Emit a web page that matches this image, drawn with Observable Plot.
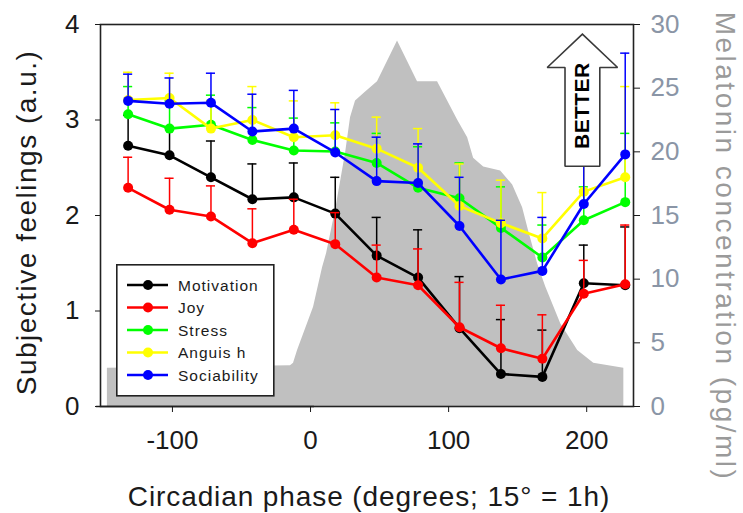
<!DOCTYPE html>
<html><head><meta charset="utf-8">
<script src="https://cdn.jsdelivr.net/npm/d3@7"></script>
<script src="https://cdn.jsdelivr.net/npm/@observablehq/plot@0.6"></script>
<style>
html,body{margin:0;padding:0;background:#fff;}
#wrap{position:relative;width:743px;height:513px;overflow:hidden;}
#legend{position:absolute;left:116px;top:264px;}
</style></head><body><div id="wrap"></div>
<script>
// ---- data ----
const phase = [-135, -105, -75, -45, -15, 15, 45, 75, 105, 135, 165, 195, 225];

const motivation      = [2.73, 2.63, 2.40, 2.17, 2.19, 2.02, 1.58, 1.35, 0.82, 0.34, 0.31, 1.29, 1.27];
const motivationUpper = [3.05, 2.92, 2.78, 2.54, 2.55, 2.40, 1.98, 1.85, 1.36, 0.91, 0.80, 1.69, 1.88];
const joy             = [2.29, 2.06, 1.99, 1.71, 1.85, 1.70, 1.35, 1.27, 0.83, 0.61, 0.50, 1.18, 1.28];
const joyUpper        = [2.61, 2.39, 2.31, 2.07, 2.17, 2.03, 1.69, 1.65, 1.30, 1.06, 0.96, 1.53, 1.90];
const stress          = [3.06, 2.91, 2.95, 2.79, 2.68, 2.67, 2.55, 2.29, 2.18, 1.87, 1.56, 1.95, 2.14];
const stressUpper     = [3.35, 3.20, 3.26, 3.13, 3.02, 2.97, 2.86, 2.72, 2.55, 2.30, 1.90, 2.30, 2.86];
const anguish         = [3.21, 3.23, 2.91, 3.00, 2.82, 2.84, 2.70, 2.50, 2.10, 1.92, 1.76, 2.25, 2.40];
const anguishUpper    = [3.50, 3.49, 3.20, 3.35, 3.20, 3.18, 3.03, 2.91, 2.54, 2.37, 2.24, 2.55, 3.35];
const sociability     = [3.20, 3.17, 3.18, 2.88, 2.91, 2.66, 2.36, 2.34, 1.89, 1.33, 1.42, 2.12, 2.64];
const sociabilityUpper= [3.48, 3.44, 3.49, 3.27, 3.31, 3.11, 2.82, 2.75, 2.40, 1.95, 1.98, 2.62, 3.70];

const seriesNames  = ["Motivation", "Joy", "Stress", "Anguis h", "Sociability"];
const seriesColors = ["#000000", "#ff0000", "#00ff00", "#ffff00", "#0000ff"];
const seriesMeans  = [motivation, joy, stress, anguish, sociability];
const seriesUppers = [motivationUpper, joyUpper, stressUpper, anguishUpper, sociabilityUpper];

const melatoninPhase = [-150, -17.4, -15.2, -12.3, -0.7, 5.8, 8.7, 15.2, 22.5, 26.1, 29.7, 37, 45.6, 60.1, 74.6, 89.1, 96.4, 103.6, 110.9, 115.2, 122.5, 134.8, 143.5, 150.7, 155, 161.6, 167.4, 178.3, 190.6, 202.2, 224];
const melatonin      = [3.0, 3.2, 3.4, 4.4, 7.8, 10.9, 12.0, 15.4, 19.9, 22.7, 24.0, 24.7, 25.5, 28.7, 25.5, 25.5, 24.0, 22.5, 21.1, 19.5, 18.8, 18.5, 17.4, 15.6, 13.8, 11.2, 9.4, 6.5, 4.4, 3.4, 3.0];

const xTicks = [-100, 0, 100, 200];
const leftTicks = [0, 1, 2, 3, 4];
const rightTicks = [0, 5, 10, 15, 20, 25, 30];

const xTitle = "Circadian phase (degrees; 15° = 1h)";
const yTitle = "Subjective feelings (a.u.)";
const y2Title = "Melatonin concentration (pg/ml)";

// annotation "BETTER" arrow (data units)
const betterArrow = {x: 194, tip: 3.9, head: 3.55, base: 2.515, headHalf: 25.5, shaftHalf: 12.6, textY: 3.15};

// ---- build ----
const melMax = 30, feelMax = 4;
const toLeft = v => v * feelMax / melMax;
const capHalf = 3.3;

const melRows = melatoninPhase.map((x, i) => ({x, m: melatonin[i]}));

const seriesMarks = [];
seriesNames.forEach((name, s) => {
  const rows = phase.map((x, i) => ({x, y: seriesMeans[s][i], hi: seriesUppers[s][i]}));
  const c = seriesColors[s];
  seriesMarks.push(
    Plot.ruleX(rows, {x: "x", y1: "y", y2: "hi", stroke: c, strokeWidth: 1.5}),
    Plot.ruleY(rows, {y: "hi", x1: d => d.x - capHalf, x2: d => d.x + capHalf, stroke: c, strokeWidth: 1.5}),
    Plot.line(rows, {x: "x", y: "y", stroke: c, strokeWidth: 2.6}),
    Plot.dot(rows, {x: "x", y: "y", fill: c, r: 5, stroke: "none"})
  );
});

const a = betterArrow;
const arrowPoly = [
  [a.x, a.tip], [a.x + a.headHalf, a.head], [a.x + a.shaftHalf, a.head], [a.x + a.shaftHalf, a.base],
  [a.x - a.shaftHalf, a.base], [a.x - a.shaftHalf, a.head], [a.x - a.headHalf, a.head], [a.x, a.tip]
];

const FONT = "'Liberation Sans', Arial, Helvetica, sans-serif";
const fmt = d => String(d);

const chart = Plot.plot({
  width: 743, height: 513,
  marginLeft: 100, marginRight: 110, marginTop: 24, marginBottom: 107,
  style: {fontFamily: FONT, fontSize: "26px", color: "#1a1a1a", background: "#fff", overflow: "visible"},
  x: {domain: [-155, 231]},
  y: {domain: [0, feelMax]},
  marks: [
    Plot.areaY(melRows, {x: "x", y: d => toLeft(d.m), fill: "#c0c0c0", curve: "linear"}),
    ...seriesMarks,
    Plot.line(arrowPoly, {x: d => d[0], y: d => d[1], fill: "#fff", stroke: "#3a3a3a", strokeWidth: 1.6, strokeLinejoin: "miter"}),
    Plot.text(["BETTER"], {x: a.x, y: a.textY, rotate: -90, fontWeight: "bold", fontSize: 21, fill: "#000"}),
    Plot.frame({stroke: "#222", strokeWidth: 1.6}),
    Plot.ruleY([0], {x1: -158, x2: 0, stroke: "#222", strokeWidth: 1.6, clip: false}),
    Plot.axisX({ticks: xTicks, tickSize: 6, tickPadding: 18, label: null, dx: -4, tickFormat: fmt}),
    Plot.axisY({anchor: "left", ticks: leftTicks, tickSize: 5, tickPadding: 16, label: null, tickFormat: fmt}),
    Plot.axisY({anchor: "right", ticks: rightTicks.map(toLeft), tickSize: 6, tickFormat: () => "", label: null}),
    Plot.axisY({anchor: "right", ticks: rightTicks.map(toLeft), tickSize: 0, tickPadding: 17, tickFormat: d => String(Math.round(d * melMax / feelMax)), label: null, color: "#8a95a6"}),
    Plot.text([xTitle], {frameAnchor: "bottom", textAnchor: "middle", dy: 99, dx: 2, lineAnchor: "bottom", fontSize: 28, fill: "#1a1a1a"}),
    Plot.text([yTitle], {frameAnchor: "left", textAnchor: "middle", dx: -65, dy: 7, rotate: -90, lineAnchor: "bottom", fontSize: 28, fill: "#1a1a1a"}),
    Plot.text([y2Title], {frameAnchor: "right", textAnchor: "middle", dx: 82, dy: 31, rotate: 90, lineAnchor: "bottom", fontSize: 28, fill: "#9a9a9a"})
  ]
});
document.getElementById("wrap").appendChild(chart);

// letter spacing of the titles (the reference text is set wide)
const spacing = new Map([[xTitle, "0.9px"], [yTitle, "1.5px"], [y2Title, "2.5px"], ["BETTER", "0.4px"]]);
d3.select(chart).selectAll("text").each(function() {
  const s = spacing.get(this.textContent);
  if (s) d3.select(this).style("letter-spacing", s);
});

// ---- legend (inside plot, lower left) ----
const lg = d3.select("#wrap").append("svg").attr("id", "legend")
  .attr("width", 160).attr("height", 134);
lg.append("rect").attr("x", 0.8).attr("y", 0.8).attr("width", 157).attr("height", 131)
  .attr("fill", "#fff").attr("stroke", "#222").attr("stroke-width", 1.6);
seriesNames.forEach((name, i) => {
  const y = 21 + i * 22.5;
  lg.append("line").attr("x1", 11).attr("x2", 52).attr("y1", y).attr("y2", y)
    .attr("stroke", seriesColors[i]).attr("stroke-width", 2.6);
  lg.append("circle").attr("cx", 32).attr("cy", y).attr("r", 5).attr("fill", seriesColors[i]);
  lg.append("text").attr("x", 62).attr("y", y).attr("dy", "0.36em")
    .attr("font-family", FONT).attr("font-size", 15.5).attr("letter-spacing", 1)
    .attr("fill", "#1a1a1a").text(name);
});
</script>
</body></html>
